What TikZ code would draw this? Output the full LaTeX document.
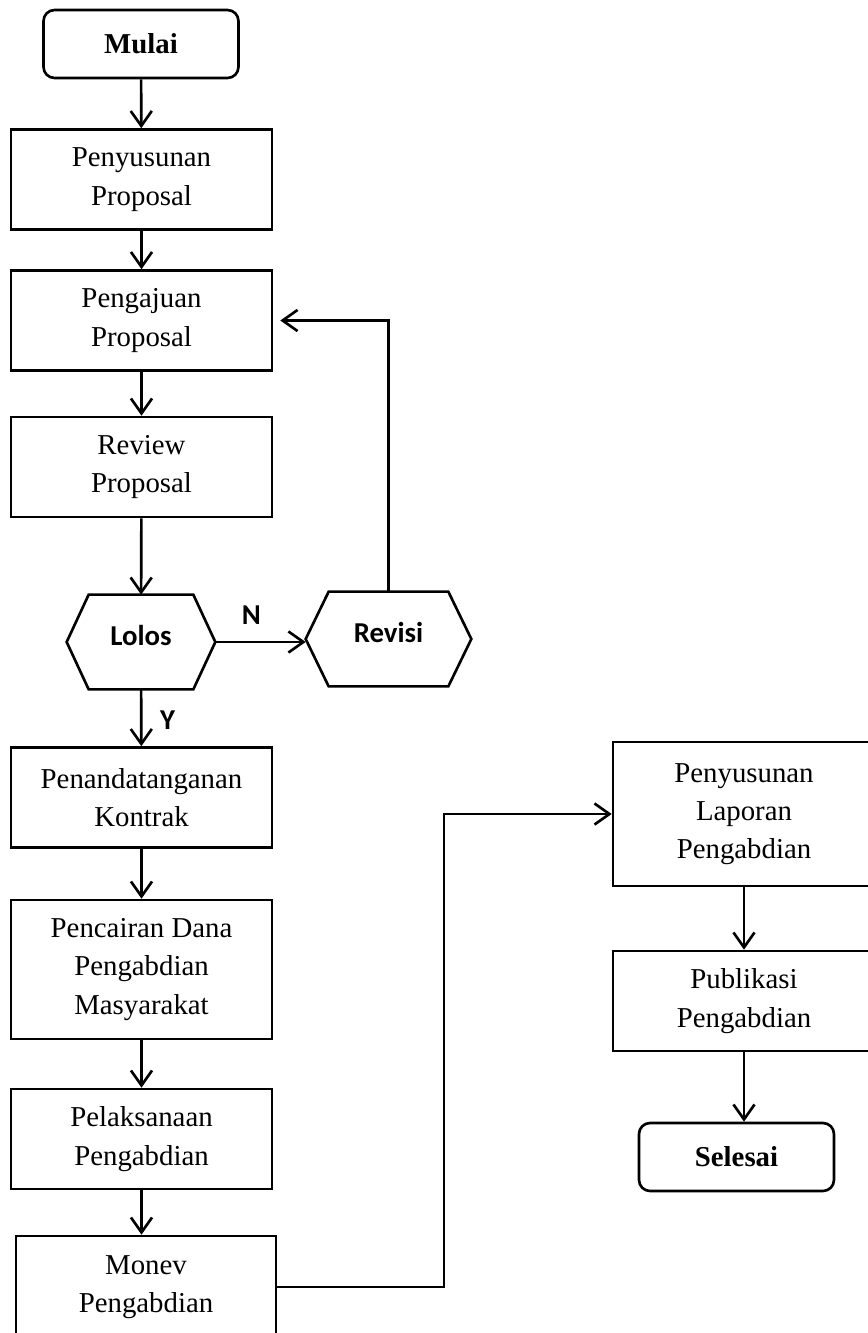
\documentclass[tikz,border=0pt]{standalone}
\usepackage{fontspec}
\setmainfont{Liberation Serif}
\newfontfamily\calibri{Carlito}
\usetikzlibrary{arrows.meta,calc}
\tikzset{
  box/.style  ={draw, line width=1.5pt, align=center, inner sep=0pt,
                minimum width=5.22cm, minimum height=2cm,
                font=\fontsize{16.4}{21.8}\selectfont},
  term/.style ={box, rounded corners=0.22cm, minimum width=3.9cm, minimum height=1.36cm,
                font=\fontsize{16.4}{21.8}\selectfont\bfseries},
  hexa/.style ={align=center, inner sep=0pt, minimum height=1.88cm, text depth=8pt,
                font=\fontsize{16.4}{20}\calibri\bfseries},
  lbl/.style  ={font=\fontsize{16.4}{20}\calibri\bfseries, inner sep=0pt},
  flow/.style ={-{Straight Barb[length=8.5pt,width=12pt]}, line width=1.5pt},
}
% hexagon drawn round a node: name, indent of the points
\newcommand{\hexpath}[2]{%
  \draw[line width=1.5pt] (#1.west) -- ([xshift=#2]#1.north west) -- ([xshift=-#2]#1.north east)
    -- (#1.east) -- ([xshift=-#2]#1.south east) -- ([xshift=#2]#1.south west) -- cycle;}

\begin{document}
\begin{tikzpicture}[x=0.02cm, y=-0.02cm]
  \useasboundingbox (0,0) rectangle (868,1333);
  \clip (0,0) rectangle (868,1333);
  \node[term] (mulai) at (141,44) {Mulai};
  \node[box] (susun) at (141.5,179.5) {Penyusunan\\Proposal};
  \node[box] (aju) at (141.5,320.5) {Pengajuan\\Proposal};
  \node[box] (review) at (141.5,467) {Review\\Proposal};
  \node[hexa, minimum width=2.96cm] (lolos) at (141,642) {Lolos};
  \node[hexa, minimum width=3.3cm] (revisi) at (388.5,639) {Revisi};
  \hexpath{lolos}{0.44cm}
  \hexpath{revisi}{0.46cm}
  \node[box] (kontrak) at (141.5,797.5) {Penandatanganan\\Kontrak};
  \node[box, minimum height=2.78cm] (dana) at (141.5,969.5) {Pencairan Dana\\Pengabdian\\Masyarakat};
  \node[box] (laksana) at (141.5,1139) {Pelaksanaan\\Pengabdian};
  \node[box, minimum width=5.2cm, minimum height=2.04cm] (monev) at (146,1287) {Monev\\Pengabdian};
  % right column
  \node[box, minimum width=5.24cm, minimum height=2.88cm] (laporan) at (744,814) {Penyusunan\\Laporan\\Pengabdian};
  \node[box, minimum width=5.24cm] (publikasi) at (744,1001) {Publikasi\\Pengabdian};
  \node[term] (selesai) at (736.5,1157) {Selesai};
  \coordinate (belok) at (444,1287);

  \draw[flow] (mulai) -- (susun);
  \draw[flow] (susun) -- (aju);
  \draw[flow] (aju) -- (review);
  \draw[flow] (review) -- (lolos);
  \draw[flow] (lolos.east) -- (lolos.east -| revisi.west)
        node[lbl, pos=0.4, above=9pt]{N};
  \draw[flow, shorten >=4pt] (revisi.north) |- (aju.east);
  \draw[flow] (lolos) -- (kontrak) node[lbl, pos=0.55, right=10pt]{Y};
  \draw[flow] (kontrak) -- (dana);
  \draw[flow] (dana) -- (laksana);
  \draw[flow] (laksana.south) -- (laksana.south |- monev.north);
  \draw[flow] (monev.east) -- (monev.east -| belok) -- (belok |- laporan.west) -- (laporan.west);
  \draw[flow] (laporan) -- (publikasi);
  \draw[flow] (publikasi.south) -- (publikasi.south |- selesai.north);
\end{tikzpicture}
\end{document}
